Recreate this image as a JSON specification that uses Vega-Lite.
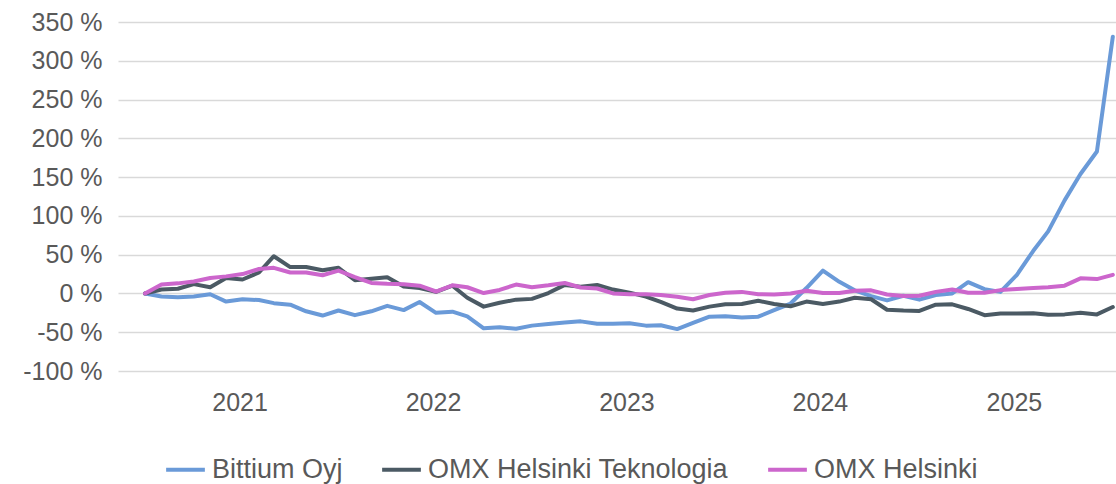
{
  "$schema": "https://vega.github.io/schema/vega-lite/v6.json",
  "width": 998,
  "height": 349,
  "autosize": {"type": "none"},
  "padding": {"left": 118, "top": 22, "right": 0, "bottom": 113},
  "background": "white",
  "config": {
    "view": {"stroke": null},
    "font": "Liberation Sans"
  },
  "data": {
    "format": {"parse": {"d": "date:'%Y-%m'"}},
    "values": [
      {"d": "2020-07", "Bittium Oyj": 0, "OMX Helsinki Teknologia": 0, "OMX Helsinki": 0},
      {"d": "2020-08", "Bittium Oyj": -4, "OMX Helsinki Teknologia": 5, "OMX Helsinki": 11.5},
      {"d": "2020-09", "Bittium Oyj": -5, "OMX Helsinki Teknologia": 6, "OMX Helsinki": 13},
      {"d": "2020-10", "Bittium Oyj": -4, "OMX Helsinki Teknologia": 12, "OMX Helsinki": 15.5},
      {"d": "2020-11", "Bittium Oyj": -1, "OMX Helsinki Teknologia": 8, "OMX Helsinki": 20},
      {"d": "2020-12", "Bittium Oyj": -10.5, "OMX Helsinki Teknologia": 20, "OMX Helsinki": 22},
      {"d": "2021-01", "Bittium Oyj": -7.5, "OMX Helsinki Teknologia": 18, "OMX Helsinki": 25},
      {"d": "2021-02", "Bittium Oyj": -8.5, "OMX Helsinki Teknologia": 27, "OMX Helsinki": 31.5},
      {"d": "2021-03", "Bittium Oyj": -12.5, "OMX Helsinki Teknologia": 48, "OMX Helsinki": 33},
      {"d": "2021-04", "Bittium Oyj": -14.5, "OMX Helsinki Teknologia": 34, "OMX Helsinki": 27},
      {"d": "2021-05", "Bittium Oyj": -23, "OMX Helsinki Teknologia": 34, "OMX Helsinki": 27},
      {"d": "2021-06", "Bittium Oyj": -28.5, "OMX Helsinki Teknologia": 30, "OMX Helsinki": 23.5},
      {"d": "2021-07", "Bittium Oyj": -22, "OMX Helsinki Teknologia": 33, "OMX Helsinki": 29.5},
      {"d": "2021-08", "Bittium Oyj": -28, "OMX Helsinki Teknologia": 17, "OMX Helsinki": 21},
      {"d": "2021-09", "Bittium Oyj": -23, "OMX Helsinki Teknologia": 19, "OMX Helsinki": 13.5},
      {"d": "2021-10", "Bittium Oyj": -16, "OMX Helsinki Teknologia": 21, "OMX Helsinki": 12.5},
      {"d": "2021-11", "Bittium Oyj": -21.5, "OMX Helsinki Teknologia": 9, "OMX Helsinki": 12},
      {"d": "2021-12", "Bittium Oyj": -11, "OMX Helsinki Teknologia": 7, "OMX Helsinki": 10},
      {"d": "2022-01", "Bittium Oyj": -25, "OMX Helsinki Teknologia": 2, "OMX Helsinki": 2.5},
      {"d": "2022-02", "Bittium Oyj": -23.5, "OMX Helsinki Teknologia": 10, "OMX Helsinki": 10.5},
      {"d": "2022-03", "Bittium Oyj": -29.5, "OMX Helsinki Teknologia": -5.5, "OMX Helsinki": 8},
      {"d": "2022-04", "Bittium Oyj": -45, "OMX Helsinki Teknologia": -17, "OMX Helsinki": 0.5},
      {"d": "2022-05", "Bittium Oyj": -43.5, "OMX Helsinki Teknologia": -12, "OMX Helsinki": 4.5},
      {"d": "2022-06", "Bittium Oyj": -45.5, "OMX Helsinki Teknologia": -8, "OMX Helsinki": 11.5},
      {"d": "2022-07", "Bittium Oyj": -41.5, "OMX Helsinki Teknologia": -7, "OMX Helsinki": 8},
      {"d": "2022-08", "Bittium Oyj": -39.5, "OMX Helsinki Teknologia": 0.5, "OMX Helsinki": 10.5},
      {"d": "2022-09", "Bittium Oyj": -37.5, "OMX Helsinki Teknologia": 11, "OMX Helsinki": 13.5},
      {"d": "2022-10", "Bittium Oyj": -36, "OMX Helsinki Teknologia": 8.5, "OMX Helsinki": 7.7},
      {"d": "2022-11", "Bittium Oyj": -39, "OMX Helsinki Teknologia": 11, "OMX Helsinki": 6.4},
      {"d": "2022-12", "Bittium Oyj": -39, "OMX Helsinki Teknologia": 5, "OMX Helsinki": 0},
      {"d": "2023-01", "Bittium Oyj": -38.5, "OMX Helsinki Teknologia": 1, "OMX Helsinki": -0.9},
      {"d": "2023-02", "Bittium Oyj": -41.5, "OMX Helsinki Teknologia": -4, "OMX Helsinki": -0.9},
      {"d": "2023-03", "Bittium Oyj": -41, "OMX Helsinki Teknologia": -11, "OMX Helsinki": -2},
      {"d": "2023-04", "Bittium Oyj": -46, "OMX Helsinki Teknologia": -19.5, "OMX Helsinki": -4.3},
      {"d": "2023-05", "Bittium Oyj": -38, "OMX Helsinki Teknologia": -22, "OMX Helsinki": -7.5},
      {"d": "2023-06", "Bittium Oyj": -30, "OMX Helsinki Teknologia": -17, "OMX Helsinki": -2},
      {"d": "2023-07", "Bittium Oyj": -29.5, "OMX Helsinki Teknologia": -14, "OMX Helsinki": 1},
      {"d": "2023-08", "Bittium Oyj": -31, "OMX Helsinki Teknologia": -13.5, "OMX Helsinki": 2},
      {"d": "2023-09", "Bittium Oyj": -30, "OMX Helsinki Teknologia": -9.5, "OMX Helsinki": -1},
      {"d": "2023-10", "Bittium Oyj": -21.5, "OMX Helsinki Teknologia": -13.5, "OMX Helsinki": -1.5},
      {"d": "2023-11", "Bittium Oyj": -13, "OMX Helsinki Teknologia": -16.5, "OMX Helsinki": 0},
      {"d": "2023-12", "Bittium Oyj": 7, "OMX Helsinki Teknologia": -10.5, "OMX Helsinki": 3.5},
      {"d": "2024-01", "Bittium Oyj": 29.5, "OMX Helsinki Teknologia": -13.5, "OMX Helsinki": 0.5},
      {"d": "2024-02", "Bittium Oyj": 15, "OMX Helsinki Teknologia": -10.5, "OMX Helsinki": 0.5},
      {"d": "2024-03", "Bittium Oyj": 4, "OMX Helsinki Teknologia": -5.5, "OMX Helsinki": 3.5},
      {"d": "2024-04", "Bittium Oyj": -3.5, "OMX Helsinki Teknologia": -7.5, "OMX Helsinki": 4},
      {"d": "2024-05", "Bittium Oyj": -9, "OMX Helsinki Teknologia": -21, "OMX Helsinki": -1.3},
      {"d": "2024-06", "Bittium Oyj": -3, "OMX Helsinki Teknologia": -22, "OMX Helsinki": -3.4},
      {"d": "2024-07", "Bittium Oyj": -8, "OMX Helsinki Teknologia": -22.5, "OMX Helsinki": -3},
      {"d": "2024-08", "Bittium Oyj": -2, "OMX Helsinki Teknologia": -14.5, "OMX Helsinki": 2},
      {"d": "2024-09", "Bittium Oyj": 0, "OMX Helsinki Teknologia": -14, "OMX Helsinki": 5},
      {"d": "2024-10", "Bittium Oyj": 14.5, "OMX Helsinki Teknologia": -20, "OMX Helsinki": 0.9},
      {"d": "2024-11", "Bittium Oyj": 5.5, "OMX Helsinki Teknologia": -28, "OMX Helsinki": 1},
      {"d": "2024-12", "Bittium Oyj": 2, "OMX Helsinki Teknologia": -26, "OMX Helsinki": 4.3},
      {"d": "2025-01", "Bittium Oyj": 24, "OMX Helsinki Teknologia": -26, "OMX Helsinki": 5.7},
      {"d": "2025-02", "Bittium Oyj": 55, "OMX Helsinki Teknologia": -25.5, "OMX Helsinki": 7},
      {"d": "2025-03", "Bittium Oyj": 80, "OMX Helsinki Teknologia": -27.5, "OMX Helsinki": 8},
      {"d": "2025-04", "Bittium Oyj": 120, "OMX Helsinki Teknologia": -27, "OMX Helsinki": 10},
      {"d": "2025-05", "Bittium Oyj": 154, "OMX Helsinki Teknologia": -25, "OMX Helsinki": 19.5},
      {"d": "2025-06", "Bittium Oyj": 183, "OMX Helsinki Teknologia": -27, "OMX Helsinki": 18.5},
      {"d": "2025-07", "Bittium Oyj": 331, "OMX Helsinki Teknologia": -17.5, "OMX Helsinki": 24}
    ]
  },
  "transform": [
    {"fold": ["Bittium Oyj", "OMX Helsinki Teknologia", "OMX Helsinki"], "as": ["series", "value"]}
  ],
  "mark": {"type": "line", "strokeWidth": 4, "strokeJoin": "round", "strokeCap": "round"},
  "encoding": {
    "x": {
      "field": "d",
      "type": "temporal",
      "scale": {"domain": [{"year": 2020, "month": 5, "date": 11}, {"year": 2025, "month": 7, "date": 7}]},
      "axis": {
        "title": null,
        "values": [
          {"year": 2021, "month": 1, "date": 1},
          {"year": 2022, "month": 1, "date": 1},
          {"year": 2023, "month": 1, "date": 1},
          {"year": 2024, "month": 1, "date": 1},
          {"year": 2025, "month": 1, "date": 1}
        ],
        "format": "%Y",
        "grid": false,
        "ticks": false,
        "domain": false,
        "labelFontSize": 25,
        "labelColor": "#595959",
        "labelPadding": 19,
        "labelFlush": false,
        "labelOffset": -3
      }
    },
    "y": {
      "field": "value",
      "type": "quantitative",
      "scale": {"domain": [-100, 350], "nice": false, "zero": false},
      "axis": {
        "title": null,
        "values": [-100, -50, 0, 50, 100, 150, 200, 250, 300, 350],
        "labelExpr": "datum.value + ' %'",
        "grid": true,
        "gridColor": "#d9d9d9",
        "gridWidth": 1.5,
        "ticks": false,
        "domain": false,
        "labelFontSize": 25,
        "labelColor": "#595959",
        "labelPadding": 16,
        "labelFlush": false
      }
    },
    "color": {
      "field": "series",
      "type": "nominal",
      "scale": {
        "domain": ["Bittium Oyj", "OMX Helsinki Teknologia", "OMX Helsinki"],
        "range": ["#6A9AD8", "#4B5A64", "#CC66CC"]
      },
      "legend": {
        "title": null,
        "orient": "none",
        "legendX": 46,
        "legendY": 426,
        "direction": "horizontal",
        "symbolType": "stroke",
        "symbolSize": 1500,
        "symbolStrokeWidth": 4,
        "labelFontSize": 27,
        "labelColor": "#595959",
        "labelOffset": 5,
        "columnPadding": 31,
        "padding": 0,
        "labelLimit": 600
      }
    }
  }
}
